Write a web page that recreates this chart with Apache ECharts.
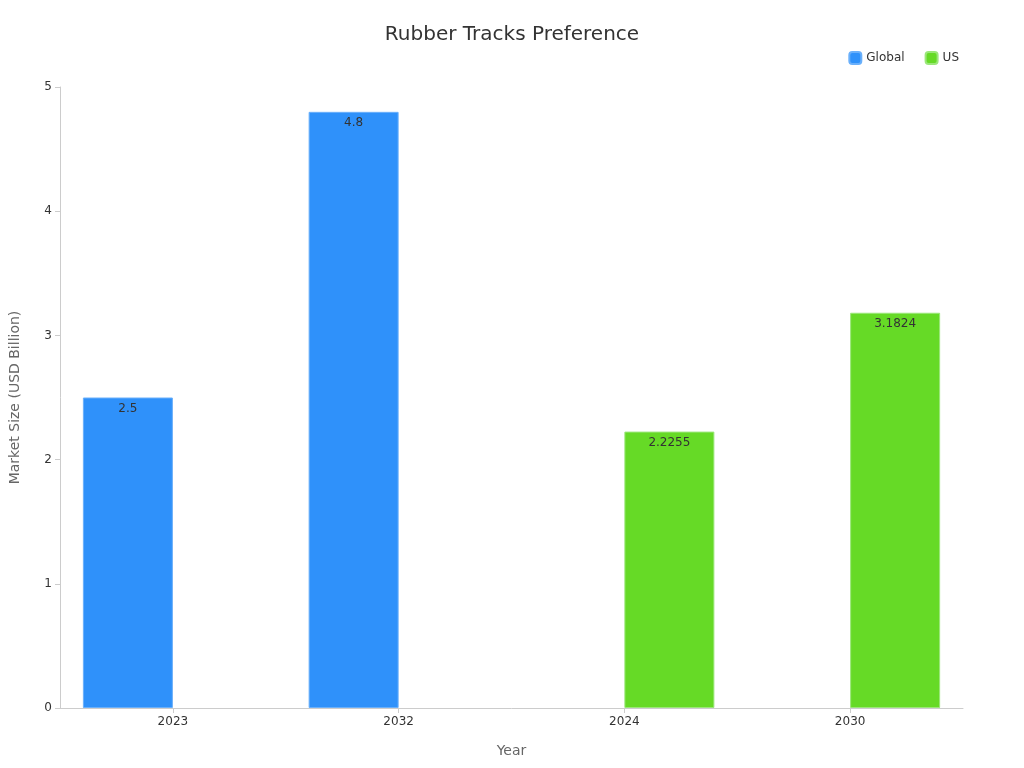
<!DOCTYPE html>
<html><head><meta charset="utf-8">
<script src="https://cdn.jsdelivr.net/npm/echarts@6/dist/echarts.min.js"></script>
<style>html,body{margin:0;padding:0}#c{width:1024px;height:768px}</style>
</head><body><div id="c"></div>
<script>
const categories = ['2023', '2032', '2024', '2030'];
const globalValues = [2.5, 4.8, null, null];
const usValues = [null, null, 2.2255, 3.1824];
const chart = echarts.init(document.getElementById('c'));
const lbl = {show: true, position: 'insideTop', color: '#333', fontSize: 12, fontFamily: 'DejaVu Sans'};
chart.setOption({
  title: {text: 'Rubber Tracks Preference', left: 'center', top: 20, textStyle: {fontSize: 20, fontWeight: 'normal', color: '#333', fontFamily: 'DejaVu Sans'}},
  legend: {right: 60, top: 46, itemWidth: 12, itemHeight: 12, itemGap: 20, textStyle: {fontSize: 12, color: '#333', fontFamily: 'DejaVu Sans'}, data: ['Global', 'US']},
  grid: {left: 59, right: 61, top: 87, bottom: 60},
  xAxis: {type: 'category', data: categories, name: 'Year', nameLocation: 'middle', nameGap: 36,
    nameTextStyle: {fontSize: 14, color: '#666', fontFamily: 'DejaVu Sans'},
    axisLine: {lineStyle: {color: '#ccc'}}, axisTick: {show: true, alignWithLabel: true, lineStyle: {color: '#ccc'}},
    axisLabel: {color: '#333', fontSize: 12, fontFamily: 'DejaVu Sans'}},
  yAxis: {type: 'value', min: 0, max: 5, interval: 1, name: 'Market Size (USD Billion)', nameLocation: 'middle', nameGap: 38,
    nameTextStyle: {fontSize: 14, color: '#666', fontFamily: 'DejaVu Sans'},
    axisLine: {show: true, lineStyle: {color: '#ccc'}}, axisTick: {show: true, lineStyle: {color: '#ccc'}},
    splitLine: {show: false}, axisLabel: {color: '#333', fontSize: 12, fontFamily: 'DejaVu Sans'}},
  series: [
    {name: 'Global', type: 'bar', data: globalValues, barWidth: 90, barGap: '0%', itemStyle: {color: '#2f91fa', borderColor: '#6ab0fb', borderWidth: 1}, label: lbl},
    {name: 'US', type: 'bar', data: usValues, barWidth: 90, itemStyle: {color: '#66da26', borderColor: '#9be77a', borderWidth: 1}, label: lbl}
  ]
});
</script></body></html>
